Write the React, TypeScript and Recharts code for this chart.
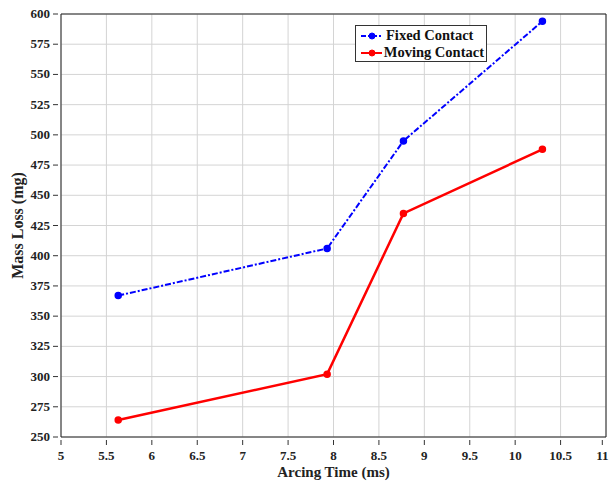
import {
  CartesianGrid,
  Line,
  LineChart,
  ReferenceLine,
  XAxis,
  YAxis,
} from "recharts";

const arcingTime = [5.63, 7.93, 8.77, 10.3];
const fixedContact = [367, 406, 495, 594];
const movingContact = [264, 302, 435, 488];

const xTicks = [5, 5.5, 6, 6.5, 7, 7.5, 8, 8.5, 9, 9.5, 10, 10.5, 11];
const yTicks = [250, 275, 300, 325, 350, 375, 400, 425, 450, 475, 500, 525, 550, 575, 600];

const data = arcingTime.map((t, i) => ({
  time: t,
  fixed: fixedContact[i],
  moving: movingContact[i],
}));

const font = "'Liberation Serif', 'Times New Roman', serif";

function XTick({ x, y, payload }: any) {
  return (
    <g>
      <line x1={x} x2={x} y1={y} y2={y - 5} stroke="#333" />
      <text x={x} y={y + 15} textAnchor="middle" fontFamily={font} fontWeight="bold" fontSize={13} fill="#222">
        {payload.value}
      </text>
    </g>
  );
}

function YTick({ x, y, payload }: any) {
  return (
    <g>
      <line x1={x} x2={x + 5} y1={y} y2={y} stroke="#333" />
      <text x={x - 3} y={y + 4} textAnchor="end" fontFamily={font} fontWeight="bold" fontSize={13} fill="#222">
        {payload.value}
      </text>
    </g>
  );
}

function YLabel({ viewBox }: any) {
  const cy = viewBox.y + viewBox.height / 2;
  return (
    <text
      x={17}
      y={cy}
      transform={`rotate(-90, 17, ${cy})`}
      textAnchor="middle"
      dominantBaseline="central"
      fontFamily={font}
      fontWeight="bold"
      fontSize={16}
      fill="#222"
    >
      Mass Loss (mg)
    </text>
  );
}

function LegendBox() {
  const row = (color: string, dash: string | undefined, label: string) => (
    <div style={{ display: "flex", alignItems: "center", height: 17, whiteSpace: "nowrap" }}>
      <svg width={24} height={12} style={{ marginRight: 2 }}>
        <line x1={1} x2={23} y1={6} y2={6} stroke={color} strokeWidth={2} strokeDasharray={dash} />
        <circle cx={12} cy={6} r={3} fill={color} stroke={color} />
      </svg>
      <span style={{ fontFamily: font, fontWeight: "bold", fontSize: 14.5, color: "#111" }}>{label}</span>
    </div>
  );
  return (
    <div
      style={{
        position: "absolute",
        left: 355,
        top: 25,
        width: 132,
        height: 37,
        boxSizing: "border-box",
        border: "1px solid #333",
        background: "#fff",
        padding: "1px 2px 1px 4px",
      }}
    >
      {row("#0000ff", "5 2 2 2", "Fixed Contact")}
      {row("#ff0000", undefined, "Moving Contact")}
    </div>
  );
}

export default function App() {
  return (
    <div style={{ position: "absolute", left: 0, top: 0, width: 610, height: 483, background: "#fff" }}>
      <LineChart width={610} height={483} data={data} margin={{ top: 14, right: 4, left: 0, bottom: 0 }}>
        <CartesianGrid stroke="#d4d4d4" strokeWidth={1} />
        <XAxis
          dataKey="time"
          type="number"
          domain={[5, 11]}
          ticks={xTicks}
          allowDataOverflow
          height={46}
          tickLine={false}
          tick={<XTick />}
          stroke="#222"
          label={{ value: "Arcing Time (ms)", position: "insideBottom", offset: 6, fontFamily: font, fontWeight: "bold", fontSize: 15, fill: "#222" }}
        />
        <YAxis
          type="number"
          domain={[250, 600]}
          ticks={yTicks}
          allowDataOverflow
          width={61}
          tickLine={false}
          tick={<YTick />}
          stroke="#222"
          label={<YLabel />}
        />
        <ReferenceLine x={11} stroke="#222" />
        <ReferenceLine y={600} stroke="#222" />
        <Line
          dataKey="fixed"
          name="Fixed Contact"
          stroke="#0000ff"
          strokeWidth={2}
          strokeDasharray="6 2 2 2"
          dot={{ r: 3, fill: "#0000ff", stroke: "#0000ff", strokeWidth: 1.5, strokeDasharray: "" }}
          isAnimationActive={false}
        />
        <Line
          dataKey="moving"
          name="Moving Contact"
          stroke="#ff0000"
          strokeWidth={2.5}
          dot={{ r: 3, fill: "#ff0000", stroke: "#ff0000", strokeWidth: 1.5 }}
          isAnimationActive={false}
        />
      </LineChart>
      <LegendBox />
    </div>
  );
}
